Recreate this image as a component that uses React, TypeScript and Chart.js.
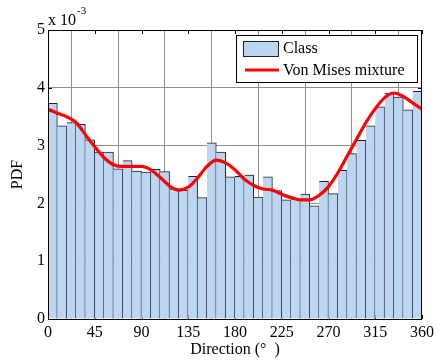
import React, { useEffect, useRef } from "react";
import { Chart, registerables } from "chart.js";

Chart.register(...registerables);

// Direction histogram: 40 classes of 9°, PDF values in units of 1e-3
const BIN_WIDTH = 9;
const classPdf = [
  3.73, 3.34, 3.4, 3.37, 3.1, 2.89, 2.89, 2.6, 2.74, 2.56,
  2.54, 2.59, 2.55, 2.25, 2.23, 2.47, 2.1, 3.05, 2.89, 2.46,
  2.47, 2.49, 2.11, 2.46, 2.22, 2.06, 2.08, 2.16, 1.96, 2.38,
  2.17, 2.57, 2.86, 3.09, 3.34, 3.67, 3.91, 3.84, 3.62, 3.94,
];
const classCenters = classPdf.map((_, i) => i * BIN_WIDTH + BIN_WIDTH / 2);

// Fitted von Mises mixture density (units of 1e-3)
const curveDeg = [
  0, 9, 18, 27, 36, 45, 54, 63, 72, 81, 90, 99, 108, 117, 126, 135, 144, 153, 162, 171,
  180, 189, 198, 207, 216, 225, 234, 243, 252, 261, 270, 279, 288, 297, 306, 315, 324, 333,
  342, 351, 360,
];
const curvePdf = [
  3.63, 3.56, 3.5, 3.4, 3.19, 2.98, 2.79, 2.67, 2.64, 2.64, 2.64, 2.58, 2.45, 2.3, 2.23, 2.28,
  2.44, 2.64, 2.75, 2.7, 2.58, 2.42, 2.31, 2.25, 2.23, 2.16, 2.1, 2.06, 2.06, 2.14, 2.29,
  2.53, 2.82, 3.11, 3.4, 3.64, 3.83, 3.91, 3.85, 3.74, 3.63,
];

const xTicks = [0, 45, 90, 135, 180, 225, 270, 315, 360];
const yTicks = [0, 1, 2, 3, 4, 5];

const SERIF = "'Liberation Serif', 'Times New Roman', serif";
const BAR_FILL = "#bcd5f1";
const BAR_EDGE = "#1d2233";
const CURVE = "#ff0000";

const axesFrame = {
  id: "axesFrame",
  beforeDatasetsDraw(chart: any) {
    const { ctx, chartArea } = chart;
    const { left, top, right, bottom } = chartArea;
    const xs = chart.scales.x;
    const ys = chart.scales.y;
    ctx.save();
    ctx.strokeStyle = "#000";
    ctx.lineWidth = 1;
    ctx.beginPath();
    for (const v of xTicks) {
      const px = Math.round(xs.getPixelForValue(v)) + 0.5;
      ctx.moveTo(px, top);
      ctx.lineTo(px, top + 4);
      ctx.moveTo(px, bottom);
      ctx.lineTo(px, bottom - 4);
    }
    for (const v of yTicks) {
      const py = Math.round(ys.getPixelForValue(v)) + 0.5;
      ctx.moveTo(left, py);
      ctx.lineTo(left + 4, py);
      ctx.moveTo(right, py);
      ctx.lineTo(right - 4, py);
    }
    ctx.stroke();
    ctx.restore();
  },
  afterDraw(chart: any) {
    const { ctx, chartArea } = chart;
    const { left, top, right, bottom } = chartArea;
    ctx.save();
    // axes box
    ctx.strokeStyle = "#000";
    ctx.lineWidth = 1;
    ctx.strokeRect(
      Math.round(left) + 0.5,
      Math.round(top) + 0.5,
      Math.round(right - left) - 1,
      Math.round(bottom - top)
    );

    // exponent label
    ctx.fillStyle = "#000";
    ctx.textBaseline = "alphabetic";
    ctx.textAlign = "left";
    ctx.font = `16px ${SERIF}`;
    ctx.fillText("x 10", left, top - 5);
    const w = ctx.measureText("x 10").width;
    ctx.font = `11px ${SERIF}`;
    ctx.fillText("-3", left + w + 1, top - 16);

    // legend
    const lw = 181;
    const lh = 47;
    const lx = Math.round(right) - 5 - lw;
    const ly = Math.round(top) + 5;
    ctx.fillStyle = "#fff";
    ctx.fillRect(lx, ly, lw, lh);
    ctx.strokeStyle = "#000";
    ctx.strokeRect(lx + 0.5, ly + 0.5, lw, lh);

    const labels = chart.data.datasets.map((d: any) => d.label);
    // Class patch
    ctx.fillStyle = BAR_FILL;
    ctx.fillRect(lx + 7, ly + 6, 36, 16);
    ctx.strokeStyle = BAR_EDGE;
    ctx.strokeRect(lx + 7.5, ly + 6.5, 35, 15);
    // curve sample
    ctx.strokeStyle = CURVE;
    ctx.lineWidth = 3;
    ctx.beginPath();
    ctx.moveTo(lx + 9, ly + 35);
    ctx.lineTo(lx + 43, ly + 35);
    ctx.stroke();

    ctx.fillStyle = "#000";
    ctx.font = `16px ${SERIF}`;
    ctx.textBaseline = "middle";
    ctx.fillText(labels[0], lx + 47, ly + 14);
    ctx.fillText(labels[1], lx + 47, ly + 36);
    ctx.restore();
  },
};

export default function App() {
  const canvasRef = useRef<HTMLCanvasElement | null>(null);

  useEffect(() => {
    document.body.style.margin = "0";
    const canvas = canvasRef.current;
    if (!canvas) return;

    const chart = new Chart(canvas, {
      type: "bar",
      data: {
        datasets: [
          {
            type: "bar",
            label: "Class",
            data: classCenters.map((x, i) => ({ x, y: classPdf[i] })),
            backgroundColor: BAR_FILL,
            borderColor: BAR_EDGE,
            borderWidth: { top: 1, right: 1, bottom: 0, left: 0 },
            borderSkipped: false,
            barPercentage: 1,
            categoryPercentage: 1,
            order: 2,
          },
          {
            type: "line",
            label: "Von Mises mixture",
            data: curveDeg.map((x, i) => ({ x, y: curvePdf[i] })),
            borderColor: CURVE,
            borderWidth: 3.2,
            pointRadius: 0,
            tension: 0.4,
            cubicInterpolationMode: "monotone",
            fill: false,
            order: 1,
          },
        ],
      } as any,
      options: {
        responsive: false,
        animation: false,
        devicePixelRatio: 1,
        layout: { padding: { top: 30, right: 16, left: 0, bottom: 0 } },
        plugins: {
          legend: { display: false },
          tooltip: { enabled: false },
        },
        scales: {
          x: {
            type: "linear",
            min: 0,
            max: 360,
            offset: false,
            afterBuildTicks: (scale: any) => {
              scale.ticks = xTicks.map((value) => ({ value }));
            },
            afterFit: (scale: any) => {
              scale.height = 44;
            },
            ticks: {
              autoSkip: false,
              maxRotation: 0,
              padding: 4,
              color: "#000",
              font: { family: SERIF, size: 16 },
            },
            grid: { color: "#8f8f8f", lineWidth: 1, drawTicks: false },
            border: { display: false },
            title: {
              display: true,
              text: "Direction (°  )",
              color: "#000",
              font: { family: SERIF, size: 16 },
              padding: { top: 0, bottom: 4 },
            },
          },
          y: {
            type: "linear",
            min: 0,
            max: 5,
            afterBuildTicks: (scale: any) => {
              scale.ticks = yTicks.map((value) => ({ value }));
            },
            afterFit: (scale: any) => {
              scale.width = 48;
            },
            ticks: {
              padding: 3,
              color: "#000",
              font: { family: SERIF, size: 16 },
            },
            grid: { color: "#8f8f8f", lineWidth: 1, drawTicks: false },
            border: { display: false },
            title: {
              display: true,
              text: "PDF",
              color: "#000",
              font: { family: SERIF, size: 16 },
              padding: { top: 8, bottom: 0 },
            },
          },
        },
      },
      plugins: [axesFrame],
    });

    return () => chart.destroy();
  }, []);

  return (
    <div style={{ width: 438, height: 363, background: "#fff" }}>
      <canvas ref={canvasRef} width={438} height={363} />
    </div>
  );
}
